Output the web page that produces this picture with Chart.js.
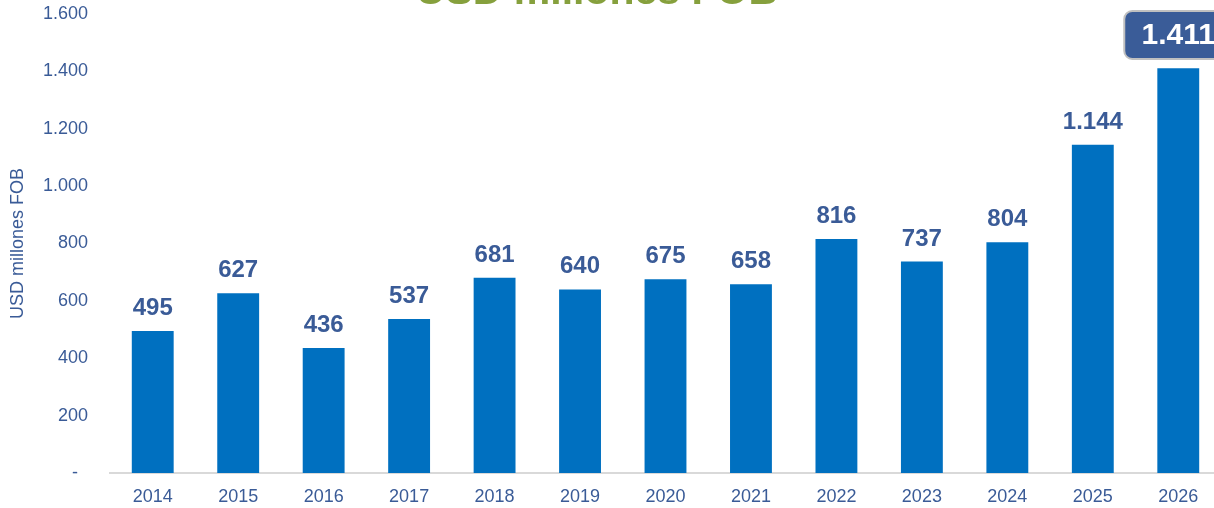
<!DOCTYPE html>
<html>
<head>
<meta charset="utf-8">
<script src="https://cdn.jsdelivr.net/npm/chart.js@4"></script>
<style>
  html, body { margin: 0; padding: 0; background: #fff; overflow: hidden; }
  #wrap { position: relative; width: 1240px; height: 508px; }
  #title {
    position: absolute; left: 0; width: 1194px; top: -33px;
    text-align: center; font: bold 41px Arial, "Liberation Sans", sans-serif;
    color: #86a03d; white-space: nowrap;
  }
</style>
</head>
<body>
<div id="wrap">
  <canvas id="chart" width="1240" height="508"></canvas>
  <div id="title">USD millones FOB</div>
</div>
<script>
const years = ["2014", "2015", "2016", "2017", "2018", "2019", "2020", "2021", "2022", "2023", "2024", "2025", "2026"]
const exports = [495, 627, 436, 537, 681, 640, 675, 658, 816, 737, 804, 1144, 1411]
const yTicks = [0, 200, 400, 600, 800, 1000, 1200, 1400, 1600]

const barColor = "#0070c0"
const textColor = "#3a5b97"
const font = "Arial, 'Liberation Sans', sans-serif"

function fmt(v) {
  return String(v).replace(/\B(?=(\d{3})+(?!\d))/g, ".")
}

// etiquetas sobre las barras, la última en recuadro
const valueLabels = {
  id: "valueLabels",
  afterDatasetsDraw(chart) {
    const ctx = chart.ctx
    const meta = chart.getDatasetMeta(0)
    const last = meta.data.length - 1
    ctx.save()
    ctx.textAlign = "center"
    meta.data.forEach((bar, i) => {
      const txt = fmt(exports[i])
      if (i === last) {
        const w = 108, h = 48, x = bar.x - w / 2, y = 11
        ctx.beginPath()
        ctx.roundRect(x, y, w, h, 8)
        ctx.fillStyle = "#3a5c98"
        ctx.fill()
        ctx.lineWidth = 2
        ctx.strokeStyle = "#c0c0c0"
        ctx.stroke()
        ctx.fillStyle = "#ffffff"
        ctx.font = "bold 30px " + font
        ctx.textBaseline = "middle"
        ctx.fillText(txt, bar.x, y + h / 2 + 1)
      } else {
        ctx.fillStyle = textColor
        ctx.font = "bold 24px " + font
        ctx.textBaseline = "alphabetic"
        ctx.fillText(txt, bar.x, bar.y - 16)
      }
    })
    ctx.restore()
  }
}

new Chart(document.getElementById("chart"), {
  type: "bar",
  data: {
    labels: years,
    datasets: [{
      data: exports,
      backgroundColor: barColor,
      categoryPercentage: 1,
      barPercentage: 0.49
    }]
  },
  options: {
    responsive: false,
    animation: false,
    layout: { padding: { top: 14, right: 19, left: 0, bottom: 0 } },
    plugins: {
      legend: { display: false },
      tooltip: { enabled: false }
    },
    scales: {
      x: {
        grid: { display: false, drawTicks: false },
        border: { color: "#d9d9d9", width: 2 },
        ticks: { color: textColor, font: { size: 18, family: font }, padding: 13 },
        afterFit: s => { s.height = 35 }
      },
      y: {
        min: 0,
        max: 1600,
        grid: { display: false, drawTicks: false },
        border: { display: false },
        afterBuildTicks: s => { s.ticks = yTicks.map(v => ({ value: v })) },
        ticks: {
          color: textColor,
          font: { size: 18, family: font },
          padding: 22,
          callback: v => v === 0 ? "-  " : fmt(v)
        },
        title: {
          display: true,
          text: "USD millones FOB",
          color: textColor,
          font: { size: 18, family: font },
          padding: { top: 7, bottom: 0 }
        },
        afterFit: s => {
          s.width = 110
          s.paddingTop = 0
          s.paddingBottom = 0
        }
      }
    }
  },
  plugins: [valueLabels]
})
</script>
</body>
</html>
